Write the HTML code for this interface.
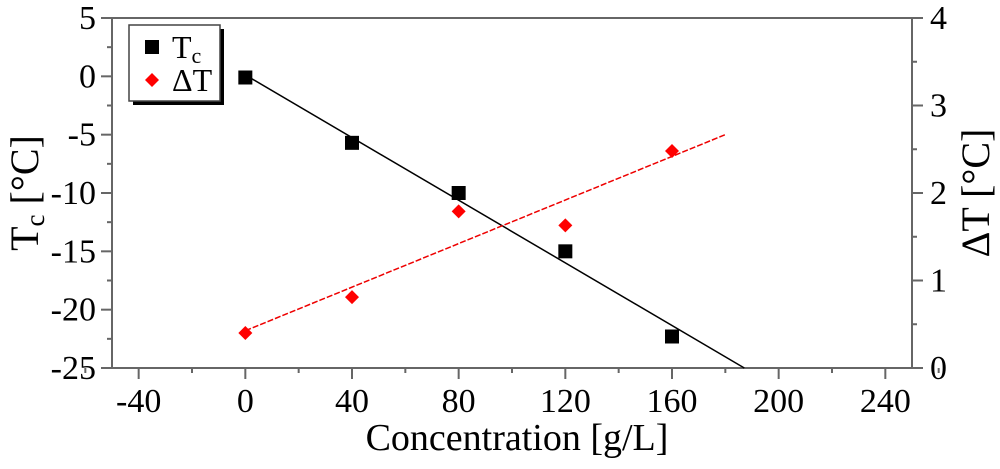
<!DOCTYPE html>
<html><head><meta charset="utf-8"><style>
body{margin:0;background:#fff}
svg text{font-family:"Liberation Serif",serif;fill:#000}
</style></head><body>
<svg width="1000" height="464">
<g id="g"></g>
</svg>
<script>
const concentrations=[0,40,80,120,160];
const tcValues=[-0.1,-5.7,-10,-15,-22.3];
const dtValues=[0.4,0.81,1.79,1.63,2.48];
const xTicks=[-40,0,40,80,120,160,200,240];
const yLeftTicks=[5,0,-5,-10,-15,-20,-25];
const yRightTicks=[0,1,2,3,4];
const L=112,R=912,T=18,B=368;
const xMin=-50,xMax=250,yMin=-25,yMax=5,y2Min=0,y2Max=4;
const sx=v=>L+(v-xMin)/(xMax-xMin)*(R-L);
const sy=v=>B-(v-yMin)/(yMax-yMin)*(B-T);
const sy2=v=>B-(v-y2Min)/(y2Max-y2Min)*(B-T);
const g=document.getElementById('g');
const NS='http://www.w3.org/2000/svg';
function el(t,a,txt){const e=document.createElementNS(NS,t);for(const k in a)e.setAttribute(k,a[k]);if(txt!==undefined)e.textContent=txt;g.appendChild(e);return e;}
function fit(x,y){const n=x.length,mx=x.reduce((a,b)=>a+b)/n,my=y.reduce((a,b)=>a+b)/n;let sxy=0,sxx=0;for(let i=0;i<n;i++){sxy+=(x[i]-mx)*(y[i]-my);sxx+=(x[i]-mx)**2;}const m=sxy/sxx;return [m,my-m*mx];}
let e=el('rect',{x:L,y:T,width:R-L,height:B-T,fill:'none',stroke:'#666','stroke-width':2});

xTicks.forEach(v=>{const x=sx(v);
 e=el('line',{x1:x,x2:x,y1:B,y2:B+11,stroke:'#666','stroke-width':2});
 e=el('line',{x1:sx(v+20),x2:sx(v+20),y1:B,y2:B+5,stroke:'#666','stroke-width':2});
 e=el('text',{x:x,y:B+44,'font-size':34,'text-anchor':'middle'},v);});
e=el('line',{x1:sx(-60),x2:sx(-60),y1:B,y2:B+5,stroke:'#666','stroke-width':2});
yLeftTicks.forEach(v=>{const y=sy(v);
 e=el('line',{x1:L-11,x2:L,y1:y,y2:y,stroke:'#666','stroke-width':2});
 if(v>yMin){e=el('line',{x1:L-5,x2:L,y1:sy(v-2.5),y2:sy(v-2.5),stroke:'#666','stroke-width':2});}
 e=el('text',{x:L-16,y:y+11,'font-size':34,'text-anchor':'end'},v);});
yRightTicks.forEach(v=>{const y=sy2(v);
 e=el('line',{x1:R,x2:R+11,y1:y,y2:y,stroke:'#666','stroke-width':2});
 if(v<y2Max){e=el('line',{x1:R,x2:R+5,y1:sy2(v+0.5),y2:sy2(v+0.5),stroke:'#666','stroke-width':2});}
 e=el('text',{x:R+18,y:y+11,'font-size':34},v);});
e=el('text',{x:(L+R)/2+5,y:450,'font-size':38,'text-anchor':'middle'},'Concentration [g/L]');
e=el('text',{x:0,y:0,'font-size':40,'text-anchor':'middle',transform:`translate(38,${(T+B)/2}) rotate(-90)`});
e.innerHTML='T<tspan font-size="27" dy="6">c</tspan><tspan dy="-6"> [°C]</tspan>';
e=el('text',{x:0,y:0,'font-size':40,'text-anchor':'middle',transform:`translate(989,${(T+B)/2}) rotate(-90)`},'ΔT [°C]');
const [m1,b1]=fit(concentrations,tcValues);
const xe=(yMin-b1)/m1;
e=el('line',{x1:sx(0),y1:sy(b1),x2:sx(xe),y2:sy(yMin),stroke:'#000','stroke-width':1.5});
const [m2,b2]=fit(concentrations,dtValues);
e=el('line',{x1:sx(0),y1:sy2(b2),x2:sx(180),y2:sy2(b2+m2*180),stroke:'#e00','stroke-width':1.5,'stroke-dasharray':'6,2'});
concentrations.forEach((c,i)=>{
 e=el('rect',{x:sx(c)-7,y:sy(tcValues[i])-7,width:14,height:14,fill:'#000'});
 const x=sx(c),y=sy2(dtValues[i]);
 e=el('polygon',{points:`${x},${y-7} ${x+7},${y} ${x},${y+7} ${x-7},${y}`,fill:'#f00'});});
e=el('rect',{x:133,y:29,width:91,height:76,fill:'#000'});
e=el('rect',{x:129,y:25,width:91,height:76,fill:'#fff',stroke:'#444','stroke-width':1.5});
e=el('rect',{x:145,y:40,width:14,height:14,fill:'#000'});
e=el('text',{x:172,y:58,'font-size':32});
e.innerHTML='T<tspan font-size="22" dy="5">c</tspan>';
e=el('polygon',{points:'152,73 159,80 152,87 145,80',fill:'#f00'});
e=el('text',{x:172,y:91,'font-size':32},'ΔT');
</script>
</body></html>
